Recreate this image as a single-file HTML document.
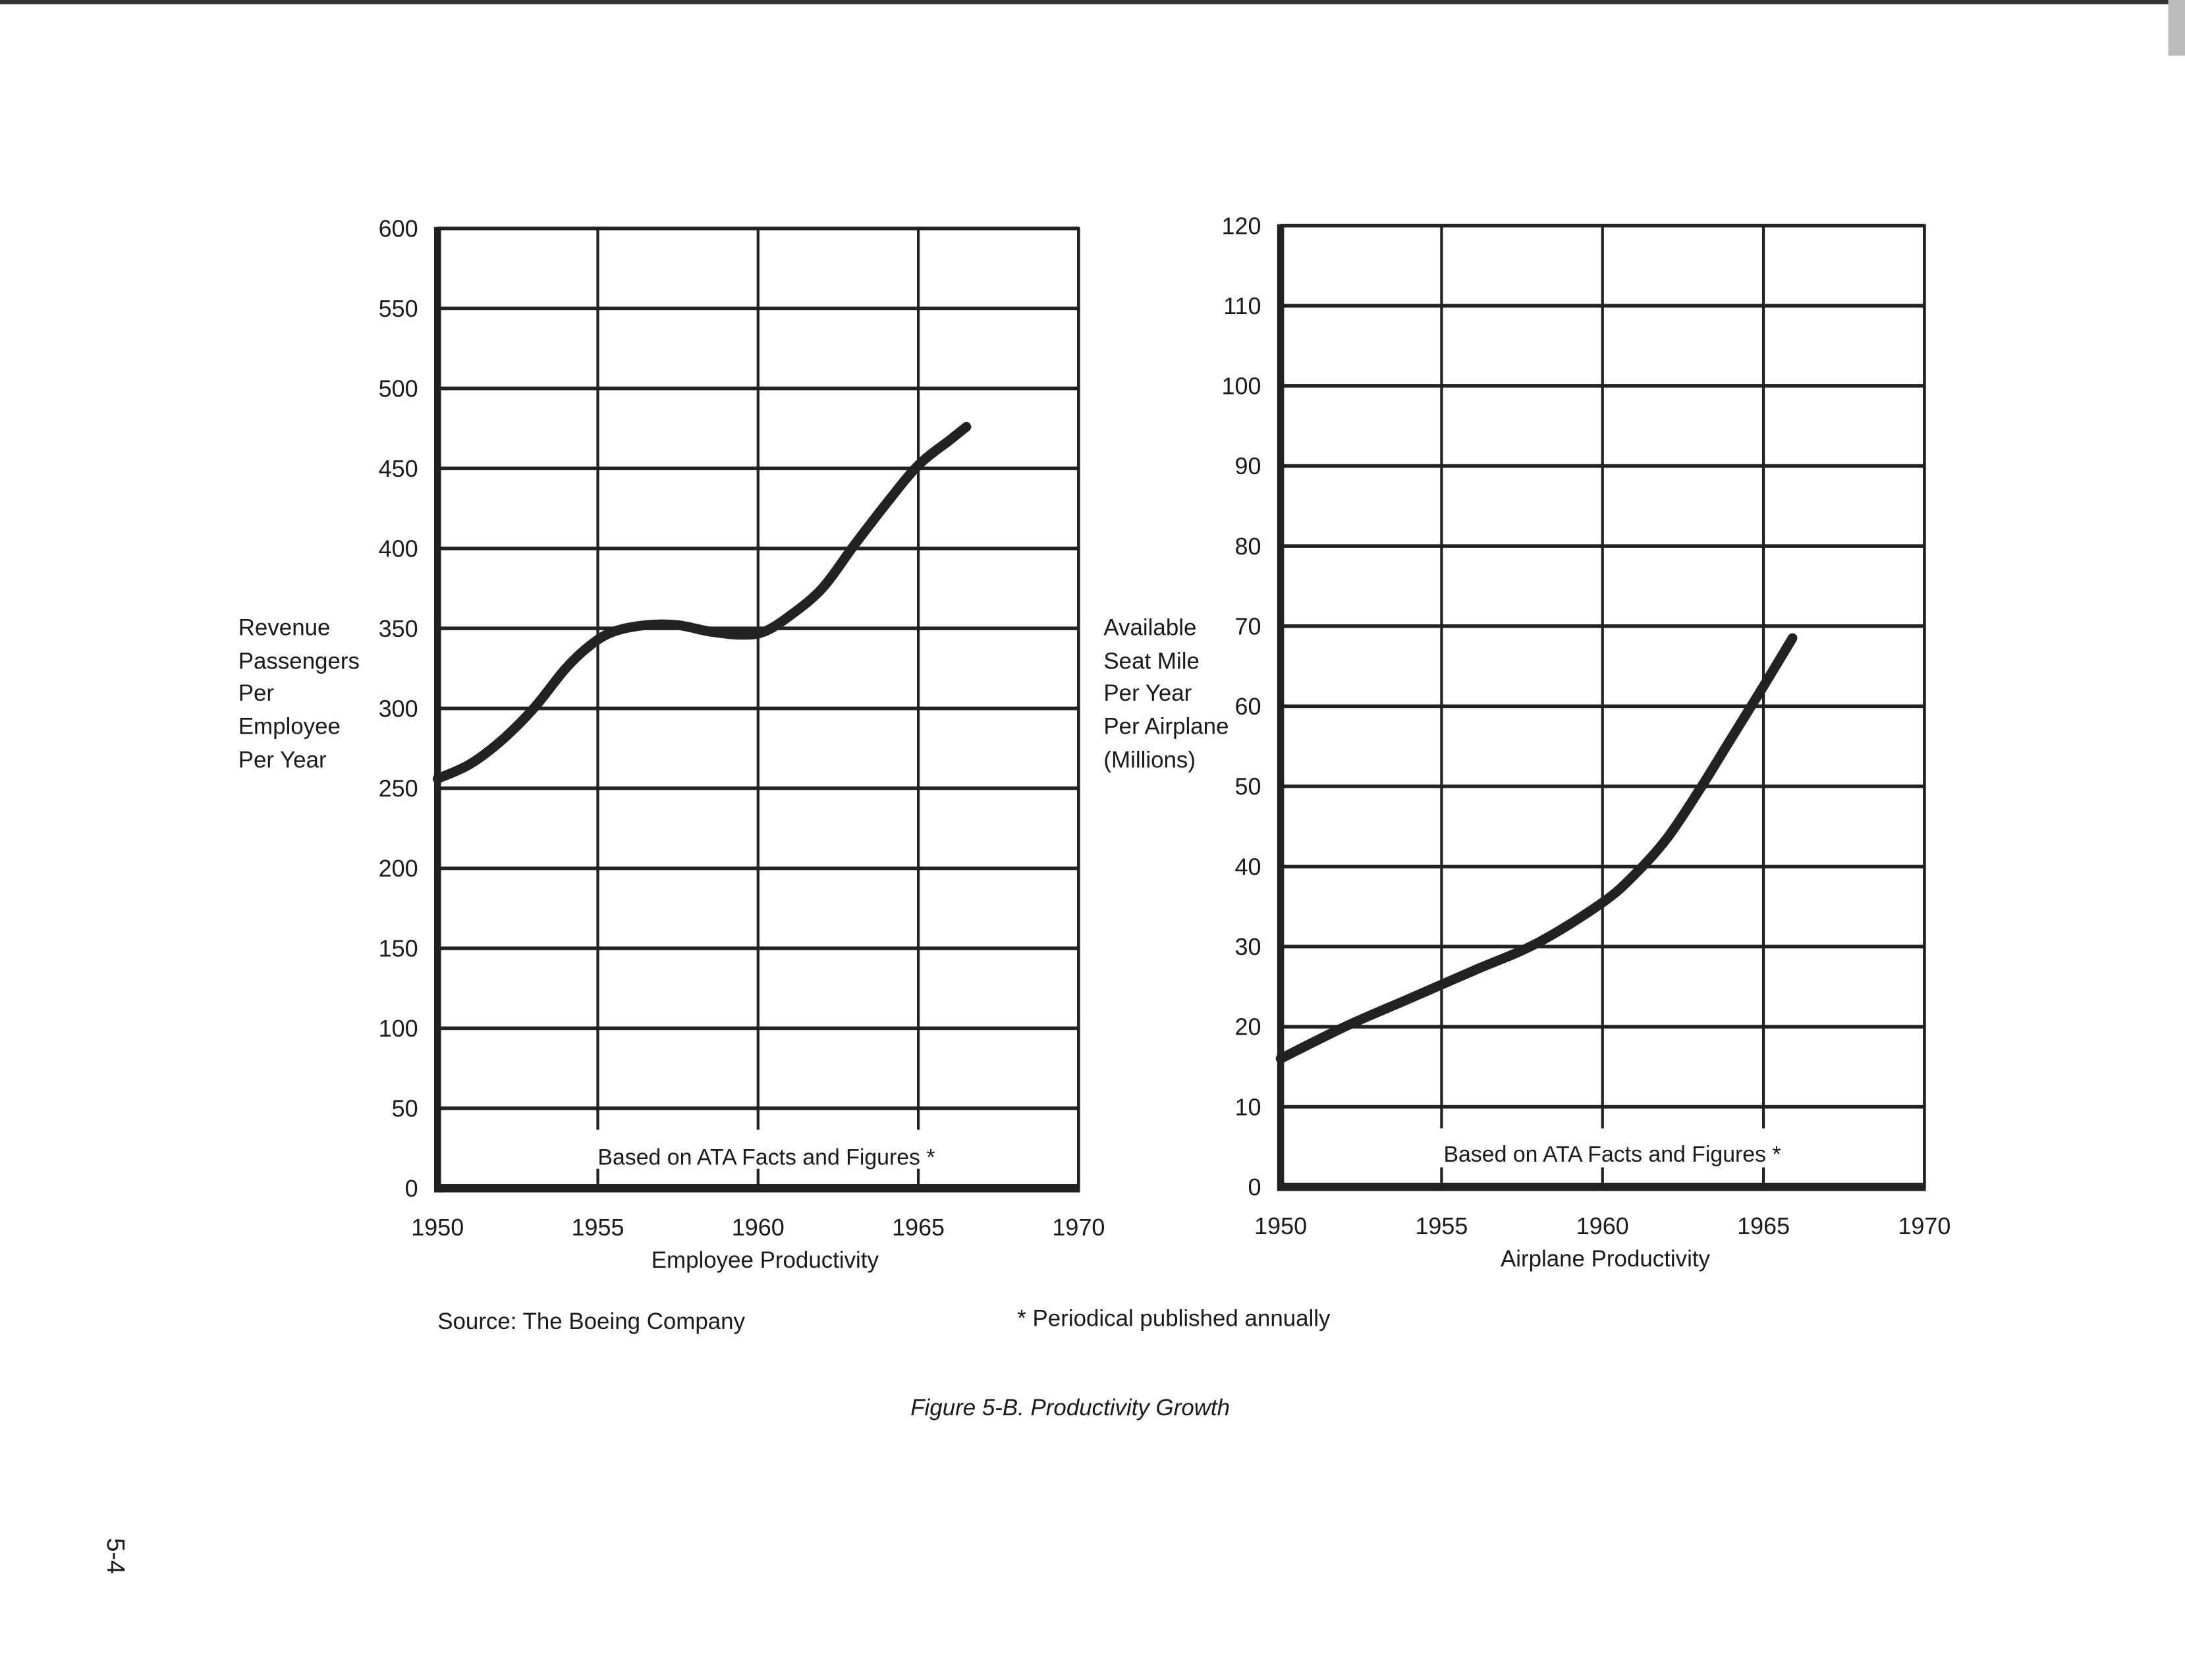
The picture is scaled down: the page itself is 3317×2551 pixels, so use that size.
<!DOCTYPE html>
<html><head><meta charset="utf-8"><style>
html,body{margin:0;padding:0;background:#fff}
svg{display:block}
text{font-family:"Liberation Sans",sans-serif;fill:#1a1a1a}
</style></head><body>
<svg width="3317" height="2551" viewBox="0 0 1568 1206" preserveAspectRatio="none" xmlns="http://www.w3.org/2000/svg">
<rect width="1568" height="1206" fill="#fff"/>
<rect x="0" y="0" width="1568" height="3" fill="#333"/>
<rect x="1556" y="0" width="12" height="40" fill="#bbb"/>
<g id="left"></g>
<g id="right"></g>
<g font-size="16.5">
<text x="171" y="456">Revenue</text><text x="171" y="480">Passengers</text><text x="171" y="503">Per</text><text x="171" y="527">Employee</text><text x="171" y="551">Per Year</text>
</g>
<g font-size="16.5">
<text x="792" y="456">Available</text><text x="792" y="480">Seat Mile</text><text x="792" y="503">Per Year</text><text x="792" y="527">Per Airplane</text><text x="792" y="551">(Millions)</text>
</g>
<text x="549" y="910" font-size="16.5" text-anchor="middle">Employee Productivity</text>
<text x="1152" y="909" font-size="16.5" text-anchor="middle">Airplane Productivity</text>
<text x="550" y="836" font-size="16" text-anchor="middle">Based on ATA Facts and Figures *</text>
<text x="1157" y="834" font-size="16" text-anchor="middle">Based on ATA Facts and Figures *</text>
<text x="314" y="954" font-size="16.5">Source:  The Boeing Company</text>
<text x="730" y="952" font-size="16.5">* Periodical published annually</text>
<text x="768" y="1016" font-size="16.5" font-style="italic" text-anchor="middle">Figure 5-B.  Productivity Growth</text>
<text transform="translate(77,1117) rotate(90)" font-size="18" text-anchor="middle">5-4</text>
</svg>
<script>
const years = [1950,1955,1960,1965,1970];
const leftTicks = [0,50,100,150,200,250,300,350,400,450,500,550,600];
const rightTicks = [0,10,20,30,40,50,60,70,80,90,100,110,120];
const leftYears = [1950,1951,1952,1953,1954,1954.8,1955.5,1956.5,1957.5,1958.5,1959.5,1960.2,1961,1962,1963,1964,1965,1966,1966.5];
const leftValues = [256,265,280,300,325,340,348,352,352,348,346,348,358,375,402,428,452,468,476];
const rightYears = [1950,1952,1954,1956,1958,1960,1961,1962,1963,1964,1965,1965.9];
const rightValues = [16,20,23.5,27,30.5,35.5,39,43.5,49.5,56,62.5,68.5];
const NS='http://www.w3.org/2000/svg';
function mk(tag,attrs,parent){const e=document.createElementNS(NS,tag);for(const k in attrs)e.setAttribute(k,attrs[k]);parent.appendChild(e);return e;}
function chart(g,box,ticks,ymax,xs,ys,pfx){
  const sx=v=>box.l+(v-1950)/20*(box.r-box.l);
  const sy=v=>box.b-v/ymax*(box.b-box.t);
  ticks.forEach(t=>{
    if(t>0){const l=mk('line',{x1:box.l,x2:box.r,y1:sy(t),y2:sy(t),stroke:'#222','stroke-width':2.6},g);
    
    }
    const tx=mk('text',{x:box.l-14,y:sy(t)+6,'font-size':17,'text-anchor':'end'},g);
    
    
    tx.textContent=t;
  });
  years.forEach(y=>{
    const x=sx(y);
    if(y>1950&&y<1970){
      const a=mk('line',{x1:x,x2:x,y1:box.t,y2:box.b-42,stroke:'#222','stroke-width':2},g);
      
      
      const b=mk('line',{x1:x,x2:x,y1:box.b-14,y2:box.b,stroke:'#222','stroke-width':2},g);
      
      
    }
    const tx=mk('text',{x:x,y:box.b+34,'font-size':17,'text-anchor':'middle'},g);
    
    
    tx.textContent=y;
  });
  const fr=mk('rect',{x:box.l,y:box.t,width:box.r-box.l,height:box.b-box.t,fill:'none',stroke:'#222','stroke-width':2.2},g);
  
  
  const ya=mk('line',{x1:box.l,x2:box.l,y1:box.t-1,y2:box.b+3,stroke:'#222','stroke-width':5},g);
  
  
  const xa=mk('line',{x1:box.l-2,x2:box.r+1,y1:box.b,y2:box.b,stroke:'#222','stroke-width':6},g);
  
  
  const pts=xs.map((x,i)=>[sx(x),sy(ys[i])]);
  let d='M'+pts[0][0]+','+pts[0][1];
  for(let i=0;i<pts.length-1;i++){
    const p0=pts[Math.max(0,i-1)],p1=pts[i],p2=pts[i+1],p3=pts[Math.min(pts.length-1,i+2)];
    const c1=[p1[0]+(p2[0]-p0[0])/6,p1[1]+(p2[1]-p0[1])/6],c2=[p2[0]-(p3[0]-p1[0])/6,p2[1]-(p3[1]-p1[1])/6];
    d+=' C'+c1+' '+c2+' '+p2;
  }
  const ln=mk('path',{d:d,fill:'none',stroke:'#222','stroke-width':7,'stroke-linecap':'round'},g);
  
  
}
chart(document.getElementById('left'),{l:314,r:774,t:164,b:853},leftTicks,600,leftYears,leftValues,'revenue-passengers');
chart(document.getElementById('right'),{l:919,r:1381,t:162,b:852},rightTicks,120,rightYears,rightValues,'seat-miles');
</script>
</body></html>
